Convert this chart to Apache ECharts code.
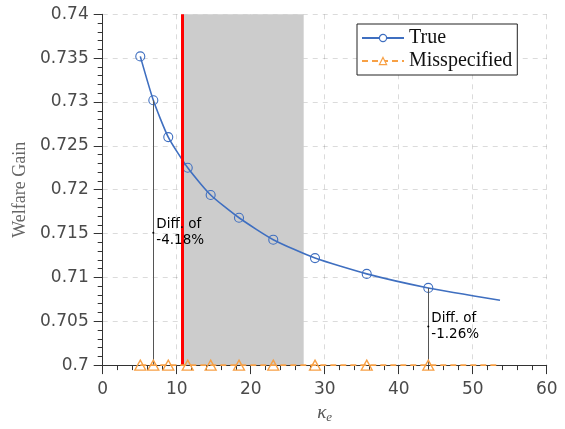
<!DOCTYPE html>
<html>
<head>
<meta charset="utf-8">
<script src="https://cdn.jsdelivr.net/npm/echarts@6/dist/echarts.min.js"></script>
<style>
html,body{margin:0;padding:0;background:#fff;}
#chart{width:565px;height:429px;}
</style>
</head>
<body>
<div id="chart"></div>
<script>
// ---- data ----
const kappaE = [5.08, 6.84, 8.86, 11.49, 14.59, 18.42, 23.05, 28.69, 35.68, 44.0, 53.69];
const trueGain = [0.7352, 0.7302, 0.7260, 0.7225, 0.7194, 0.7168, 0.7143, 0.7122, 0.7104, 0.7088, 0.7074];
const misGain = [0.7, 0.7, 0.7, 0.7, 0.7, 0.7, 0.7, 0.7, 0.7, 0.7, 0.7];
const markerCount = 10;          // markers drawn on the first 10 points only
const diffIndex = [1, 9];
const diffTexts = ['Diff. of\n-4.18%', 'Diff. of\n-1.26%'];
const refKappa = 10.76;
const shadeRange = [10.76, 27.16];
const seriesNames = ['True', 'Misspecified'];
const xTicks = {min: 0, max: 60, interval: 10};
const yTicks = {min: 0.7, max: 0.74, interval: 0.005};

const chart = echarts.init(document.getElementById('chart'), null, {renderer: 'canvas'});

const toItems = (ys) => kappaE.map((x, i) => (i < markerCount ? {value: [x, ys[i]]} : {value: [x, ys[i]], symbol: 'none'}));
const trueData = toItems(trueGain);
const misData = toItems(misGain);

const blue = '#3f6fc0';
const orange = '#f7a045';
const axisLineStyle = {color: '#333', width: 1};
const labelStyle = {color: '#4a4a4a', fontSize: 17, fontFamily: 'DejaVu Sans'};
const gridLine = {show: true, lineStyle: {color: 'rgba(0,0,0,0.14)', width: 1, type: [5, 5]}};

const option = {
  animation: false,
  backgroundColor: '#fff',
  grid: {left: 102.7, right: 18.3, top: 14.3, bottom: 63.7, containLabel: false},
  legend: {
    data: [
      {name: seriesNames[0], itemStyle: {color: '#fff', borderColor: blue, borderWidth: 1.2}},
      {name: seriesNames[1], itemStyle: {color: '#fff', borderColor: orange, borderWidth: 1.2}}
    ],
    orient: 'vertical',
    left: 357, top: 24,
    backgroundColor: '#fff',
    borderColor: '#222', borderWidth: 1, borderRadius: 0,
    padding: [4, 5, 4, 4],
    itemWidth: 42, itemHeight: 9, itemGap: 3,
    textStyle: {fontFamily: 'Liberation Serif', fontSize: 20, color: '#111'}
  },
  xAxis: {
    type: 'value', min: xTicks.min, max: xTicks.max, interval: xTicks.interval, z: 1,
    name: '{k|κ}{s|e}', nameLocation: 'middle', nameGap: 35,
    nameTextStyle: {rich: {
      k: {fontFamily: 'Liberation Serif', fontStyle: 'italic', fontSize: 19, color: '#555'},
      s: {fontFamily: 'Liberation Serif', fontStyle: 'italic', fontSize: 13, color: '#555', padding: [10, 0, 0, 0]}
    }},
    axisLine: {show: true, onZero: false, lineStyle: axisLineStyle},
    axisTick: {show: true, inside: false, length: 9, lineStyle: axisLineStyle},
    minorTick: {show: true, splitNumber: 5, length: 5, lineStyle: axisLineStyle},
    axisLabel: Object.assign({margin: 16}, labelStyle),
    splitLine: gridLine
  },
  yAxis: {
    type: 'value', min: yTicks.min, max: yTicks.max, interval: yTicks.interval, z: 1,
    name: 'Welfare Gain', nameLocation: 'middle', nameGap: 70,
    nameTextStyle: {fontFamily: 'Liberation Serif', fontSize: 18, color: '#666'},
    axisLine: {show: true, onZero: false, lineStyle: axisLineStyle},
    axisTick: {show: true, inside: false, length: 9, lineStyle: axisLineStyle},
    minorTick: {show: true, splitNumber: 5, length: 5, lineStyle: axisLineStyle},
    axisLabel: Object.assign({margin: 14}, labelStyle),
    splitLine: gridLine
  },
  series: [
    {
      name: 'shade', type: 'line', data: [], z: 0, silent: true,
      markArea: {
        silent: true,
        itemStyle: {color: '#cccccc', opacity: 1},
        data: [[{xAxis: shadeRange[0]}, {xAxis: shadeRange[1]}]]
      }
    },
    {
      name: seriesNames[0], type: 'line', data: trueData, z: 3,
      smooth: 0.2,
      symbol: 'circle', symbolSize: 9,
      lineStyle: {color: blue, width: 1.6},
      itemStyle: {color: 'rgba(0,0,0,0)', borderColor: blue, borderWidth: 1.1},
      markLine: {
        silent: true, symbol: 'none', animation: false,
        lineStyle: {color: '#555', width: 1, type: 'solid'},
        label: {show: false},
        data: diffIndex.map(i => [{coord: [kappaE[i], trueGain[i]]}, {coord: [kappaE[i], misGain[i]]}])
      },
      markPoint: {
        silent: true, symbol: 'circle', symbolSize: 2,
        itemStyle: {color: '#000'},
        label: {show: true, position: 'right', distance: 2, color: '#000', fontSize: 13.5,
                fontFamily: 'DejaVu Sans', lineHeight: 16, align: 'left'},
        data: diffIndex.map((i, k) => ({
          coord: [kappaE[i], (trueGain[i] + misGain[i]) / 2],
          label: {formatter: diffTexts[k]}
        }))
      }
    },
    {
      name: seriesNames[1], type: 'line', data: misData, zlevel: 1, z: 10, clip: false,
      symbol: 'triangle', symbolSize: [11, 10],
      lineStyle: {color: orange, width: 1.8, type: [6, 4]},
      itemStyle: {color: 'rgba(0,0,0,0)', borderColor: orange, borderWidth: 1.3}
    },
    {
      name: 'ref', type: 'line', data: [], z: 6, silent: true,
      markLine: {
        silent: true, symbol: 'none',
        lineStyle: {color: '#ff0000', width: 3, type: 'solid'},
        label: {show: false},
        data: [{xAxis: refKappa}]
      }
    }
  ]
};
chart.setOption(option);
</script>
</body>
</html>
